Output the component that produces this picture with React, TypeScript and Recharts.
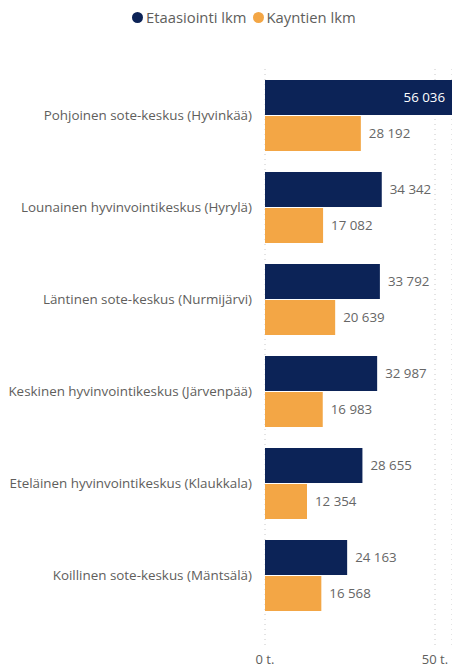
import { BarChart, Bar, XAxis, YAxis, CartesianGrid, Legend, LabelList } from "recharts";

const categories = [
  "Pohjoinen sote-keskus (Hyvinkää)",
  "Lounainen hyvinvointikeskus (Hyrylä)",
  "Läntinen sote-keskus (Nurmijärvi)",
  "Keskinen hyvinvointikeskus (Järvenpää)",
  "Eteläinen hyvinvointikeskus (Klaukkala)",
  "Koillinen sote-keskus (Mäntsälä)"
];
const etaasiointi = [56036, 34342, 33792, 32987, 28655, 24163];
const kaynnit = [28192, 17082, 20639, 16983, 12354, 16568];
const xTicks = [0, 50000];

const seriesNames = { eta: "Etaasiointi lkm", kay: "Kayntien lkm" };
const colors = { eta: "#0C2357", kay: "#F3A645" };

const data = categories.map((name, i) => ({ name, eta: etaasiointi[i], kay: kaynnit[i] }));

const FONT = "'Open Sans', 'Noto Sans', sans-serif";
const W = 452;
const H = 670;

const fmt = (v: number) => String(v).replace(/\B(?=(\d{3})+(?!\d))/g, " ");

function BarLabel(props: any) {
  const { x, y, width, height, value } = props;
  const end = x + width;
  const mid = y + height / 2;
  if (end > W - 55) {
    return (
      <text x={Math.min(end, W) - 7} y={mid} dy="0.35em" textAnchor="end" fill="#ffffff" fontSize={13.3} fontFamily={FONT}>
        {fmt(value)}
      </text>
    );
  }
  return (
    <text x={end + 8} y={mid} dy="0.35em" textAnchor="start" fill="#666666" fontSize={13.3} fontFamily={FONT}>
      {fmt(value)}
    </text>
  );
}

function LegendBox() {
  const items = [
    { key: "eta", label: seriesNames.eta, color: colors.eta },
    { key: "kay", label: seriesNames.kay, color: colors.kay }
  ];
  return (
    <div style={{ display: "flex", alignItems: "center", paddingLeft: 132, fontFamily: FONT, fontSize: 14.8, color: "#605E5C" }}>
      {items.map((it) => (
        <div key={it.key} style={{ display: "flex", alignItems: "center", marginRight: 6 }}>
          <span style={{ width: 11, height: 11, borderRadius: "50%", background: it.color, display: "inline-block", marginRight: 3 }} />
          <span>{it.label}</span>
        </div>
      ))}
    </div>
  );
}

export default function App() {
  return (
    <div style={{ position: "absolute", left: 0, top: 0, width: W, height: H, background: "#fff" }}>
      <BarChart
        width={W}
        height={H}
        data={data}
        layout="vertical"
        margin={{ top: 69, right: 0, bottom: 0, left: 0 }}
        barCategoryGap={20}
        barGap={1}
        barSize={35}
      >
        <CartesianGrid horizontal={false} vertical stroke="#c8c8c8" strokeDasharray="1 4" />
        <XAxis
          type="number"
          domain={[0, 55000]}
          allowDataOverflow
          ticks={xTicks}
          tickFormatter={(v: number) => `${v / 1000} t.`}
          axisLine={false}
          tickLine={false}
          tickSize={0}
          tickMargin={7}
          height={22}
          tick={{ fill: "#605E5C", fontSize: 13, fontFamily: FONT }}
        />
        <YAxis
          type="category"
          dataKey="name"
          width={265}
          axisLine={false}
          tickLine={false}
          tickSize={0}
          tickMargin={13}
          padding={{ top: 0, bottom: 27 }}
          interval={0}
          tick={{ fill: "#605E5C", fontSize: 13.4, fontFamily: FONT }}
        />
        <Legend verticalAlign="middle" align="center" wrapperStyle={{ top: 7, left: 0, width: W }} content={() => <LegendBox />} />
        <Bar dataKey="eta" name={seriesNames.eta} fill={colors.eta} isAnimationActive={false}>
          <LabelList dataKey="eta" content={BarLabel} />
        </Bar>
        <Bar dataKey="kay" name={seriesNames.kay} fill={colors.kay} isAnimationActive={false}>
          <LabelList dataKey="kay" content={BarLabel} />
        </Bar>
      </BarChart>
    </div>
  );
}
